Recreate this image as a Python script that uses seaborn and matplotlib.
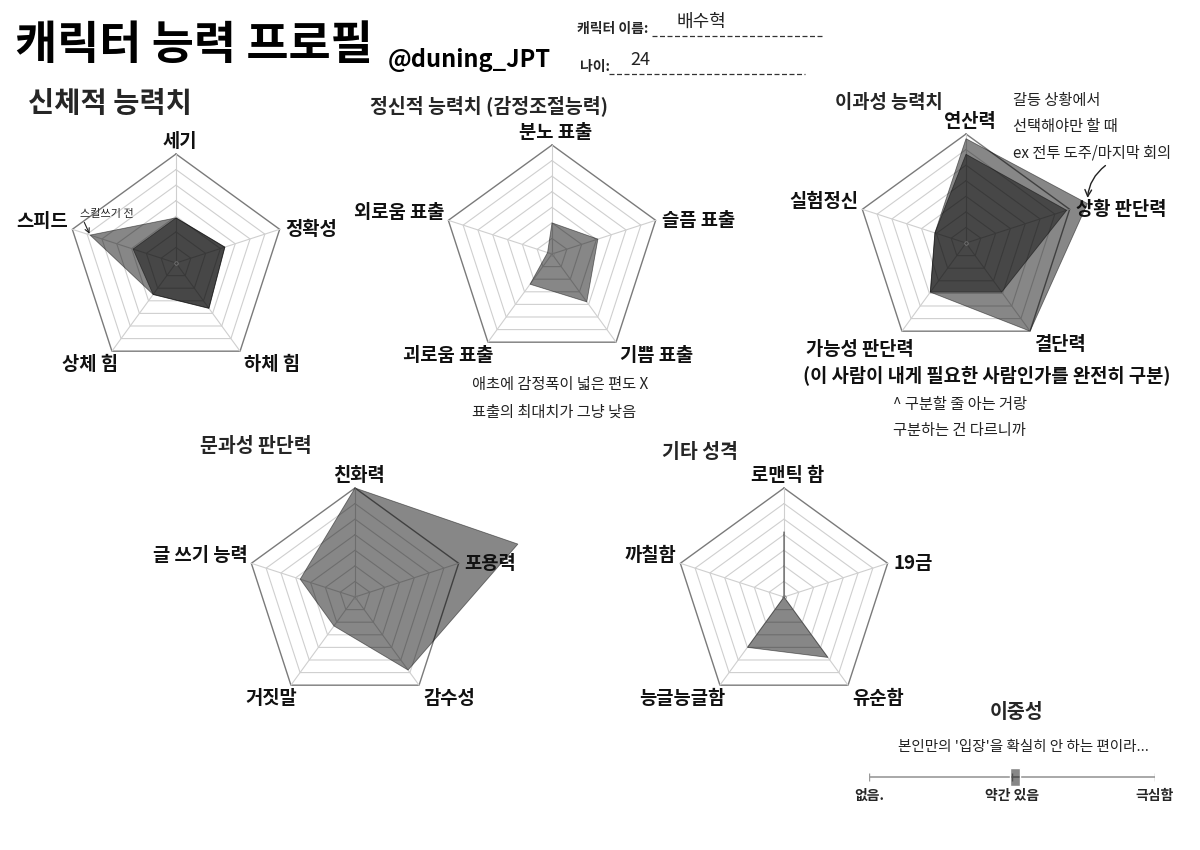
import numpy as np
import matplotlib.pyplot as plt
import seaborn as sns
from matplotlib.lines import Line2D

sns.set_theme(style="white")
plt.rcParams["font.family"] = ["Noto Sans CJK KR", "DejaVu Sans"]

W, H = 1200, 850
RING_MAX = 7  # pentagon grid has 7 rings, values are in ring units

# ---- data ----
body_axes = ["세기", "정확성", "하체 힘", "상체 힘", "스피드"]
body_after = [2.9, 3.3, 3.6, 2.5, 2.9]
body_before = [2.9, 3.3, 3.6, 2.5, 5.8]  # 스킬쓰기 전

mind_axes = ["분노 표출", "슬픔 표출", "기쁨 표출", "괴로움 표출", "외로움 표출"]
mind_vals = [2.0, 3.1, 3.8, 2.4, 0.3]

sci_axes = ["연산력", "상황 판단력", "결단력", "가능성 판단력", "실험정신"]
sci_axis_note = "(이 사람이 내게 필요한 사람인가를 완전히 구분)"
sci_usual = [5.7, 6.8, 3.9, 3.9, 2.1]
sci_conflict = [6.7, 8.2, 7.0, 3.9, 2.1]

lib_axes = ["친화력", "포용력", "감수성", "거짓말", "글 쓰기 능력"]
lib_vals = [7.0, 11.0, 5.8, 2.3, 3.7]

etc_axes = ["로맨틱 함", "19금", "유순함", "능글능글함", "까칠함"]
etc_vals = [4.2, 0.0, 4.8, 4.0, 0.0]

duality_ticks = [0, 5, 10]
duality_labels = ["없음.", "약간 있음", "극심함"]
duality_value = 5.1

fig = plt.figure(figsize=(12, 8.5), dpi=100)
fig.patch.set_facecolor("white")

FILL = (0, 0, 0, 0.47)
LABEL_SIZE = 13.5

# label placement: top, right, bottom-right, bottom-left, left
LABEL_STYLE = [
    dict(ha="center", va="bottom", off=(4, 3)),
    dict(ha="left", va="center", off=(6, 0)),
    dict(ha="left", va="top", off=(4, -4)),
    dict(ha="right", va="top", off=(6, -4)),
    dict(ha="right", va="center", off=(-4, 8)),
]


def px(x, y):
    return x / W, 1 - y / H


def radar(cx, cy, labels, series, R=109, special=None):
    ax = fig.add_axes([(cx - R) / W, 1 - (cy + R) / H, 2 * R / W, 2 * R / H],
                      projection="polar")
    ax.set_theta_offset(np.pi / 2)
    ax.set_theta_direction(-1)
    ax.set_ylim(0, RING_MAX)
    ax.axis("off")
    theta = np.linspace(0, 2 * np.pi, len(labels), endpoint=False)
    loop = np.append(theta, theta[0])
    for k in range(1, RING_MAX + 1):
        outer = k == RING_MAX
        ax.plot(loop, [k] * len(loop), color="#7a7a7a" if outer else "#cfcfcf",
                lw=1.0 if outer else 0.8, clip_on=False, zorder=1)
    for t in theta:
        ax.plot([t, t], [0, RING_MAX], color="#cfcfcf", lw=0.8, clip_on=False, zorder=1)
    for vals in series:
        ax.fill(loop, np.append(vals, vals[0]), facecolor=FILL, edgecolor=FILL,
                lw=0.6, clip_on=False, zorder=2)
    ax.plot([0], [0], "o", ms=2.5, mfc="none", mec="#777777", mew=0.6, zorder=3, clip_on=False)
    for i, (t, lab) in enumerate(zip(theta, labels)):
        st = dict(LABEL_STYLE[i])
        if special and i in special:
            st.update(special[i])
        off = st.pop("off")
        ax.annotate(lab, xy=(t, RING_MAX), xytext=off, textcoords="offset pixels",
                    fontsize=LABEL_SIZE, fontweight="bold", color="#111111",
                    annotation_clip=False, **st)
    return ax, theta


def note(x, y, lines, step=26.5, size=11, ha="left"):
    for i, line in enumerate(lines):
        fig.text(*px(x, y + i * step), line, fontsize=size, ha=ha, va="center",
                 color="#222222")


def dashed_rule(x0, x1, y):
    fig.add_artist(Line2D([x0 / W, x1 / W], [1 - y / H, 1 - y / H],
                          transform=fig.transFigure, color="#333333", lw=0.9,
                          linestyle=(0, (4, 2))))


# ---- header ----
fig.text(*px(15, 46), "캐릭터 능력 프로필", fontsize=33, fontweight="heavy",
         va="center", ha="left", color="black")
fig.text(*px(388, 60), "@duning_JPT", fontsize=17, fontweight="bold",
         va="center", ha="left", color="black")
fig.text(*px(577, 29), "캐릭터 이름:", fontsize=10, fontweight="bold", va="center", ha="left")
dashed_rule(652, 822, 36)
fig.text(*px(580, 67), "나이:", fontsize=10, fontweight="bold", va="center", ha="left")
dashed_rule(609, 805, 74)
fig.text(*px(677, 22), "배수혁", fontsize=13, va="center", ha="left", color="#222222")
fig.text(*px(630, 60), "24", fontsize=13, va="center", ha="left", color="#222222")

# ---- section titles ----
fig.text(*px(28, 104), "신체적 능력치", fontsize=20.5, fontweight="bold", va="center")
fig.text(*px(370, 106), "정신적 능력치 (감정조절능력)", fontsize=14, fontweight="bold", va="center")
fig.text(*px(835, 103), "이과성 능력치", fontsize=13.5, fontweight="bold", va="center")
fig.text(*px(200, 447), "문과성 판단력", fontsize=14, fontweight="bold", va="center")
fig.text(*px(662, 452), "기타 성격", fontsize=14, fontweight="bold", va="center")
fig.text(*px(1017, 712), "이중성", fontsize=14, fontweight="bold", va="center", ha="center")

# ---- radars ----
ax1, th1 = radar(176, 263, body_axes, [body_after, body_before])
ax1.annotate("스킬쓰기 전", xy=(th1[4], body_before[4]), xytext=(-10, 16),
             textcoords="offset pixels", fontsize=8, ha="left", va="bottom",
             annotation_clip=False,
             arrowprops=dict(arrowstyle="->", color="#222222", lw=0.8,
                             shrinkA=0, shrinkB=1, relpos=(0.05, 0)))

ax2, th2 = radar(552, 254, mind_axes, [mind_vals])
note(472, 385, ["애초에 감정폭이 넓은 편도 X", "표출의 최대치가 그냥 낮음"], step=27, size=11)

ax3, th3 = radar(966, 243, sci_axes, [sci_usual, sci_conflict],
                 special={3: dict(ha="left", va="top", off=(-96, -9))})
fig.text(*px(803, 375), sci_axis_note, fontsize=LABEL_SIZE, fontweight="bold",
         va="center", ha="left", color="#111111")
note(1013, 100, ["갈등 상황에서", "선택해야만 할 때", "ex 전투 도주/마지막 회의"], step=26.5, size=11)
ax3.annotate("", xy=(th3[1], sci_conflict[1]), xytext=(18, 38), textcoords="offset pixels",
             annotation_clip=False,
             arrowprops=dict(arrowstyle="->", color="#222222", lw=1.0,
                             shrinkA=0, shrinkB=4, connectionstyle="arc3,rad=0.25"))
note(893, 404, ["^ 구분할 줄 아는 거랑", "구분하는 건 다르니까"], step=26, size=11)

ax4, th4 = radar(355, 597, lib_axes, [lib_vals])
ax5, th5 = radar(784, 597, etc_axes, [etc_vals])

# ---- duality slider ----
sx0, sx1 = 869, 1155
axs = fig.add_axes([sx0 / W, 1 - 786 / H, (sx1 - sx0) / W, 18 / H])
axs.set_xlim(duality_ticks[0], duality_ticks[-1])
axs.set_ylim(0, 1)
axs.axhline(0.5, color="#9a9a9a", lw=1.2, zorder=1)
axs.vlines(duality_ticks, 0.3, 0.7, color="#9a9a9a", lw=1.0, zorder=1)
axs.bar(duality_value, 1, width=0.35, bottom=0, color=FILL, zorder=2)
axs.set_xticks(duality_ticks)
axs.set_xticklabels(duality_labels, fontsize=10, fontweight="bold")
axs.set_yticks([])
axs.tick_params(axis="x", length=0, pad=2)
for s in axs.spines.values():
    s.set_visible(False)
axs.set_facecolor("none")
note(1023, 747, ["본인만의 '입장'을 확실히 안 하는 편이라..."], size=10.5, ha="center")

fig.savefig("out.png", dpi=100, facecolor="white")
